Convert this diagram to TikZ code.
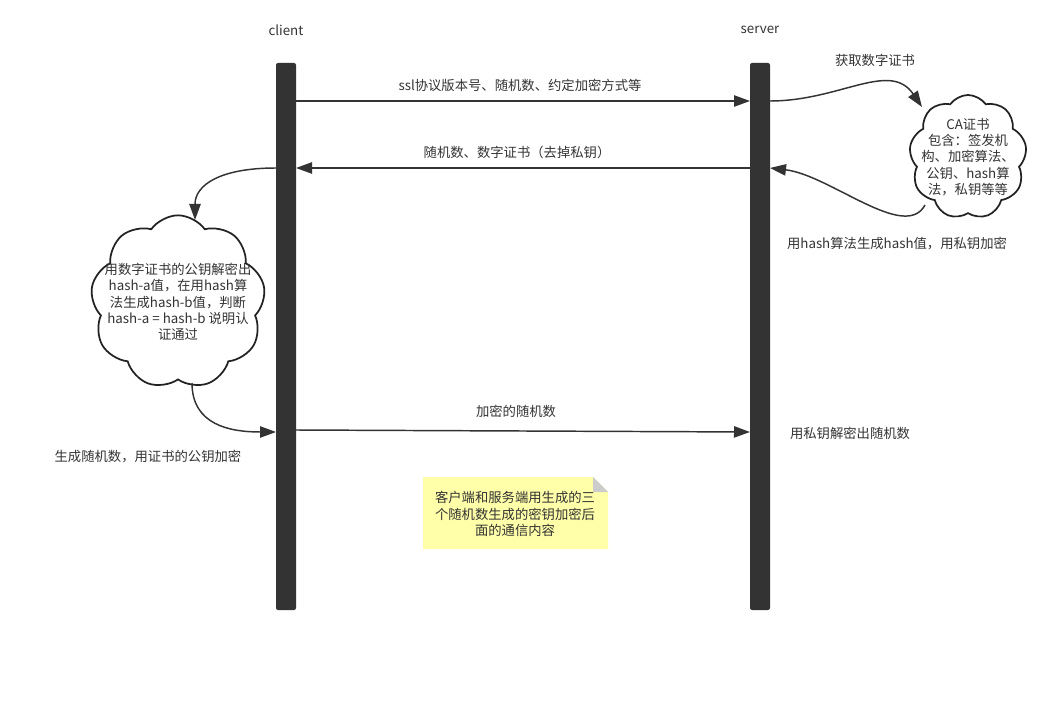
\documentclass[tikz,border=0pt]{standalone}
\usepackage{fontspec}
\setmainfont{Noto Sans CJK SC}
\usetikzlibrary{arrows.meta,shapes.symbols}

\tikzset{
  lifebar/.style={fill={rgb, 255:red, 51; green, 51; blue, 51 }, rounded corners=1.5pt, minimum width=15pt, minimum height=410.25pt, inner sep=0pt},
  msg/.style={draw={rgb, 255:red, 51; green, 51; blue, 51 }, line width=1.1pt, -{Triangle[length=12pt,width=8.5pt]}},
  lbl/.style={text={rgb, 255:red, 51; green, 51; blue, 51 }, font=\fontsize{10}{12.2}\selectfont, align=center, inner sep=0pt},
  thought/.style={cloud, cloud puffs=9, cloud puff arc=110, draw={rgb, 255:red, 34; green, 34; blue, 34 }, line width=1.3pt, fill=white, inner sep=0pt},
}

\begin{document}
\begin{tikzpicture}[x=0.75pt,y=0.75pt,yscale=-1,xscale=1]
\useasboundingbox (0,0) rectangle (1050,720);

% Lifelines
\node[lifebar] (cbar) at (286,336.5) {};
\node[lifebar] (sbar) at (760,336.5) {};

% Text Node
\node[lbl] (client) at (286,30) {client};
% Text Node
\node[lbl] (server) at (760,30) {server};

% Clouds
\node[thought, minimum width=131pt, minimum height=130pt] (hashcloud) at (178,302) {};
\node[lbl] (hashtext) at (hashcloud.center) {用数字证书的公钥解密出\\hash-a值，在用hash算\\法生成hash-b值，判断\\hash-a = hash-b 说明认\\证通过};
\node[thought, minimum width=88pt, minimum height=93pt] (cacloud) at (968,157) {};
\node[lbl] (catext) at (cacloud.center) {CA证书\\包含：签发机\\构、加密算法、\\公钥、hash算\\法，私钥等等};

% Note
\fill[fill={rgb, 255:red, 255; green, 255; blue, 170 }] (423,477) -- (593,477) -- (608,492) -- (608,549) -- (423,549) -- cycle;
\fill[fill={rgb, 255:red, 204; green, 204; blue, 204 }] (593,477) -- (608,492) -- (593,492) -- cycle;
\node[lbl] (note) at (515,514) {客户端和服务端用生成的三\\个随机数生成的密钥加密后\\面的通信内容};

% Anchors on the lifelines
\coordinate (c101) at (296,101);
\coordinate (s101) at (750,101);
\coordinate (s168) at (750,168);
\coordinate (c168) at (296,168);
\coordinate (so101) at (770,101);
\coordinate (so168) at (770,168);
\coordinate (ci168) at (276,168);
\coordinate (ci432) at (276,432);
\coordinate (c430) at (296,430);
\coordinate (s432) at (750,432);
\coordinate (catop) at (922,107);
\coordinate (cabot) at (925,205);
\coordinate (hashtop) at (195,220);
\coordinate (hashbot) at (192,383);

% Messages
\draw[msg] (c101) -- (s101);
\draw[msg] (s168) -- (c168);
\draw[msg] (c430) -- (s432);
\draw[msg] (so101) .. controls (840,101) and (890,60) .. (catop);
\draw[msg] (cabot) .. controls (905,242) and (830,175) .. (so168);
\draw[msg] (ci168) .. controls (220,168) and (195,185) .. (hashtop);
\draw[msg] (hashbot) .. controls (192,425) and (230,432) .. (ci432);

% Text Node
\node[lbl] (m1) at (520,85) {ssl协议版本号、随机数、约定加密方式等};
% Text Node
\node[lbl] (m2) at (517,152) {随机数、数字证书（去掉私钥）};
% Text Node
\node[lbl] (m3) at (516,411) {加密的随机数};
% Text Node
\node[lbl] (getca) at (875,60) {获取数字证书};
% Text Node
\node[lbl] (sign) at (897,244) {用hash算法生成hash值，用私钥加密};
% Text Node
\node[lbl] (encrnd) at (148,457) {生成随机数，用证书的公钥加密};
% Text Node
\node[lbl] (decrnd) at (850,433) {用私钥解密出随机数};

\end{tikzpicture}
\end{document}
